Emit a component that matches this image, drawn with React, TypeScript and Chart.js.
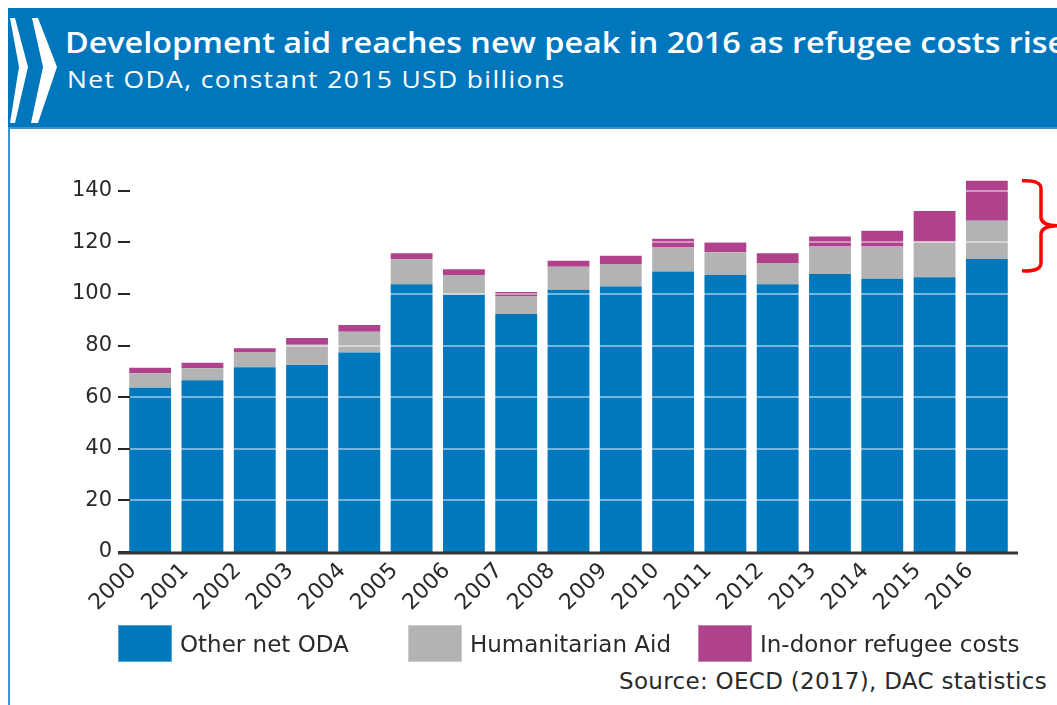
import React, { useEffect, useRef } from "react";
import { Chart, registerables } from "chart.js";

Chart.register(...registerables);

// ---- Data ----
const years = ["2000", "2001", "2002", "2003", "2004", "2005", "2006", "2007", "2008", "2009", "2010", "2011", "2012", "2013", "2014", "2015", "2016"];
const otherNetODA = [63.7, 66.6, 71.6, 72.5, 77.3, 103.8, 99.7, 92.2, 101.6, 102.9, 108.7, 107.4, 103.8, 107.8, 105.9, 106.5, 113.6];
const humanitarianAid = [5.6, 4.6, 5.7, 7.8, 8.1, 9.7, 7.7, 6.8, 9.0, 8.7, 9.3, 8.8, 8.2, 10.6, 12.5, 13.8, 14.8];
const refugeeCosts = [2.1, 2.2, 1.7, 2.6, 2.6, 2.3, 2.2, 1.8, 2.3, 3.2, 3.4, 3.9, 3.8, 3.9, 6.1, 11.9, 15.5];
const seriesNames = ["Other net ODA", "Humanitarian Aid", "In-donor refugee costs"];
const seriesColors = ["#0078bd", "#b3b3b3", "#b0418d"];
const yTickValues = [0, 20, 40, 60, 80, 100, 120, 140];
const yMax = 150;
const bracketBottomValue = 109;

const titleText = "Development aid reaches new peak in 2016 as refugee costs rise";
const subtitleText = "Net ODA, constant 2015 USD billions";
const sourceText = "Source: OECD (2017), DAC statistics";

const CHART_FONT = "'DejaVu Sans', sans-serif";
const TEXT_COLOR = "#2a2a2a";

const overlayPlugin = {
  id: "overlay",
  afterDatasetsDraw(chart: any) {
    const { ctx, chartArea } = chart;
    const y = chart.scales.y;
    ctx.save();
    // white grid lines over the bars
    ctx.strokeStyle = "rgba(255,255,255,0.45)";
    ctx.lineWidth = 2;
    yTickValues.forEach((v) => {
      if (v === 0) return;
      const py = Math.round(y.getPixelForValue(v));
      ctx.beginPath();
      ctx.moveTo(chartArea.left, py);
      ctx.lineTo(chartArea.right, py);
      ctx.stroke();
    });
    // y tick marks
    ctx.strokeStyle = "#262626";
    ctx.lineWidth = 2;
    yTickValues.forEach((v) => {
      const py = Math.round(y.getPixelForValue(v));
      ctx.beginPath();
      ctx.moveTo(chartArea.left - 6, py);
      ctx.lineTo(chartArea.left + 6, py);
      ctx.stroke();
    });
    // zero line
    const p0 = y.getPixelForValue(0) + 1;
    ctx.strokeStyle = "#333333";
    ctx.lineWidth = 3;
    ctx.beginPath();
    ctx.moveTo(chartArea.left - 6, p0);
    ctx.lineTo(chartArea.right + 5, p0);
    ctx.stroke();
    // red bracket next to the last bar
    const last = years.length - 1;
    const topVal = otherNetODA[last] + humanitarianAid[last] + refugeeCosts[last];
    const top = y.getPixelForValue(topVal);
    const bottom = y.getPixelForValue(bracketBottomValue);
    const mid = (top + bottom) / 2;
    const x0 = chartArea.right + 9;
    const x1 = x0 + 19;
    const tip = x0 + 36;
    ctx.strokeStyle = "#ff0000";
    ctx.lineWidth = 3.5;
    ctx.lineJoin = "round";
    ctx.beginPath();
    ctx.moveTo(x0, top);
    ctx.quadraticCurveTo(x1, top - 1, x1, top + 8);
    ctx.lineTo(x1, mid - 8);
    ctx.quadraticCurveTo(x1 + 1, mid, tip, mid);
    ctx.quadraticCurveTo(x1 + 1, mid, x1, mid + 8);
    ctx.lineTo(x1, bottom - 8);
    ctx.quadraticCurveTo(x1, bottom + 1, x0, bottom);
    ctx.stroke();
    ctx.restore();
  },
};

export default function App() {
  const canvasRef = useRef<HTMLCanvasElement | null>(null);

  useEffect(() => {
    if (!canvasRef.current) return;
    const chart = new Chart(canvasRef.current, {
      type: "bar",
      data: {
        labels: years,
        datasets: [
          { label: seriesNames[0], data: otherNetODA, backgroundColor: seriesColors[0] },
          { label: seriesNames[1], data: humanitarianAid, backgroundColor: seriesColors[1] },
          { label: seriesNames[2], data: refugeeCosts, backgroundColor: seriesColors[2] },
        ],
      },
      options: {
        animation: false,
        responsive: true,
        maintainAspectRatio: false,
        layout: { padding: { top: 37, right: 44, left: 0, bottom: 0 } },
        datasets: { bar: { barPercentage: 0.8, categoryPercentage: 1.0, borderWidth: 0 } },
        plugins: {
          legend: { display: false },
          tooltip: { enabled: false },
          title: { display: false },
        },
        scales: {
          x: {
            stacked: true,
            grid: { display: false, drawTicks: false },
            border: { display: false },
            ticks: {
              color: TEXT_COLOR,
              font: { family: CHART_FONT, size: 22 },
              minRotation: 45,
              maxRotation: 45,
              autoSkip: false,
              padding: 6,
              labelOffset: -17,
            },
            afterFit: (scale: any) => {
              scale.height = 76;
            },
          },
          y: {
            stacked: true,
            min: 0,
            max: yMax,
            grid: { display: false, drawTicks: false },
            border: { display: false },
            afterBuildTicks: (scale: any) => {
              scale.ticks = yTickValues.map((v) => ({ value: v }));
            },
            ticks: {
              color: TEXT_COLOR,
              font: { family: CHART_FONT, size: 21 },
              padding: 12,
            },
            afterFit: (scale: any) => {
              scale.width = 124;
            },
          },
        },
      },
      plugins: [overlayPlugin],
    } as any);
    return () => chart.destroy();
  }, []);

  return (
    <div style={{ position: "absolute", left: 0, top: 0, width: 1057, height: 705, overflow: "hidden", background: "#ffffff" }}>
      {/* header band */}
      <div style={{ position: "absolute", left: 8, top: 8, width: 1049, height: 121, background: "#0077bc", overflow: "hidden", borderBottom: "2px solid #3f93cf", boxSizing: "border-box" }}>
        <svg width="60" height="120" style={{ position: "absolute", left: 0, top: 0 }}>
          <polygon points="2,10 7,10 20,59 7,115 2,115 11,59" fill="#ffffff" />
          <polygon points="24,10 30,10 49,59 30,115 23,115 35,59" fill="#ffffff" />
        </svg>
        <div style={{ position: "absolute", left: 57, top: 17, whiteSpace: "nowrap", color: "#ffffff", fontFamily: "'Open Sans', sans-serif", fontWeight: 600, fontSize: 29, lineHeight: "34px", transform: "scaleX(1.115)", transformOrigin: "0 0" }}>
          {titleText}
        </div>
        <div style={{ position: "absolute", left: 59, top: 58, whiteSpace: "nowrap", color: "#ffffff", fontFamily: "'Open Sans', sans-serif", fontWeight: 400, fontSize: 23, letterSpacing: "1.2px", lineHeight: "26px", transform: "scaleX(1.15)", transformOrigin: "0 0" }}>
          {subtitleText}
        </div>
      </div>
      {/* left frame line */}
      <div style={{ position: "absolute", left: 8, top: 129, width: 2, height: 576, background: "#3f93cf" }} />
      {/* chart */}
      <div style={{ position: "absolute", left: 0, top: 128, width: 1057, height: 500 }}>
        <canvas ref={canvasRef} />
      </div>
      {/* legend */}
      {seriesNames.map((name, i) => (
        <div key={name} style={{ position: "absolute", left: 118 + i * 290, top: 625, height: 37, display: "flex", alignItems: "center", whiteSpace: "nowrap" }}>
          <div style={{ width: 54, height: 37, background: seriesColors[i], boxSizing: "border-box", border: "1px solid rgba(255,255,255,0.35)" }} />
          <span style={{ marginLeft: 8, fontFamily: CHART_FONT, fontSize: 23, color: TEXT_COLOR }}>{name}</span>
        </div>
      ))}
      {/* source */}
      <div style={{ position: "absolute", right: 10, top: 668, whiteSpace: "nowrap", fontFamily: CHART_FONT, fontSize: 23, letterSpacing: "0.3px", lineHeight: "26px", color: TEXT_COLOR }}>
        {sourceText}
      </div>
    </div>
  );
}
